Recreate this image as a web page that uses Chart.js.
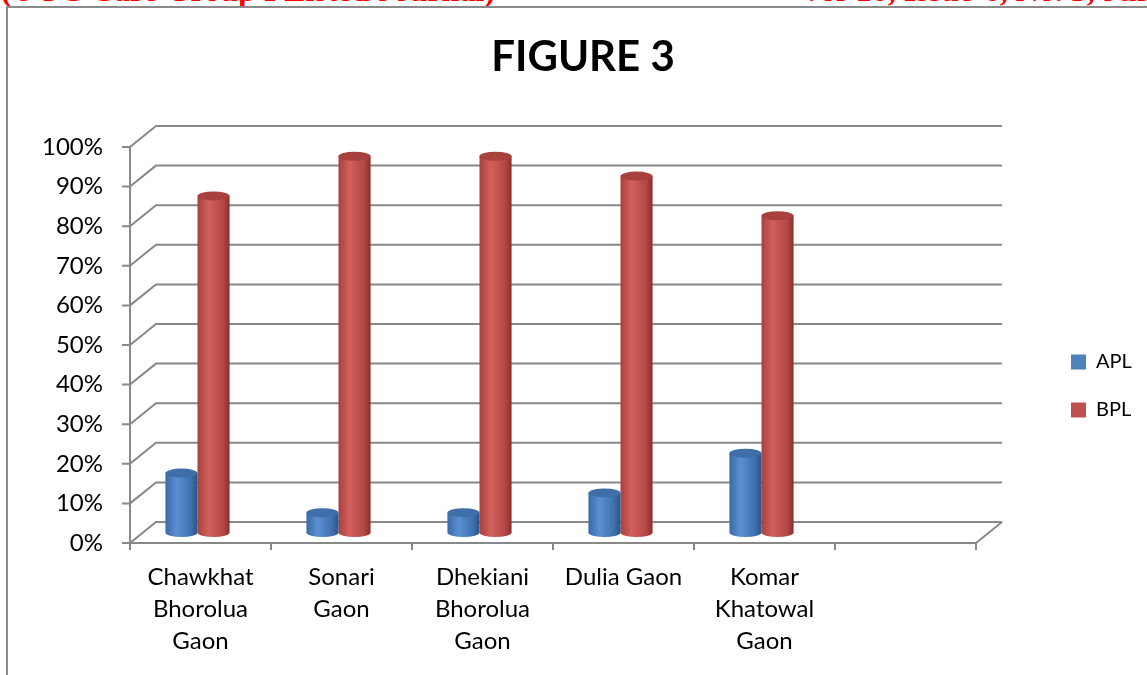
<!DOCTYPE html>
<html>
<head>
<meta charset="utf-8">
<script src="https://cdn.jsdelivr.net/npm/chart.js@4.4.1/dist/chart.umd.min.js"></script>
<style>
  html, body { margin: 0; padding: 0; background: #fff; overflow: hidden; }
  body { width: 1147px; height: 675px; position: relative; }
  .frame { position: absolute; left: 6px; top: 6px; right: -4px; bottom: -4px;
           border-left: 2px solid #8a8a8a; border-top: 2px solid #8a8a8a; }
  .head { position: absolute; top: -26px; font: bold 32px/32px "Liberation Serif", serif;
          color: #f00; white-space: nowrap; }
  #chart { position: absolute; left: 0; top: 0; }
</style>
</head>
<body>
<div class="head" style="left:1px">(UGC Care Group I Listed Journal)</div>
<div class="head" style="left:800px">Vol-10, Issue-6, No. 3, June 2020</div>
<div class="frame"></div>
<canvas id="chart" width="1147" height="675"></canvas>
<script>
const categories = [['Chawkhat', 'Bhorolua', 'Gaon'], ['Sonari', 'Gaon'], ['Dhekiani', 'Bhorolua', 'Gaon'],
  'Dulia Gaon', ['Komar', 'Khatowal', 'Gaon'], ''];
const apl = [15, 5, 5, 10, 20];
const bpl = [85, 95, 95, 90, 80];
const yMax = 100, yStep = 10;

// back wall sits this far behind the front plane
const DEPTH_X = 26, DEPTH_Y = -21;
// cylinders stand half way into the box
const BAR_DX = -3, BAR_DY = DEPTH_Y / 2;
const GRID = '#888888';

const shades = {
  apl: { flat: '#4f81bd', top: '#3f6ea9', stops: ['#3b6aa6', '#5a8fd1', '#3e70ad', '#2b5286'] },
  bpl: { flat: '#c0504d', top: '#a6413e', stops: ['#a8413e', '#d2605c', '#b24744', '#8a2e2c'] }
};

function drawCylinder(ctx, cx, top, bottom, w, pal) {
  const rx = w / 2, ry = w * 0.14;
  const l = cx - rx, r = cx + rx;
  const g = ctx.createLinearGradient(l, 0, r, 0);
  [0, 0.35, 0.8, 1].forEach((p, i) => g.addColorStop(p, pal.stops[i]));
  ctx.fillStyle = g;
  ctx.beginPath();
  ctx.moveTo(l, top);
  ctx.lineTo(l, bottom);
  ctx.ellipse(cx, bottom, rx, ry, 0, Math.PI, 0, true);
  ctx.lineTo(r, top);
  ctx.closePath();
  ctx.fill();
  ctx.fillStyle = pal.top;
  ctx.beginPath();
  ctx.ellipse(cx, top, rx, ry, 0, 0, Math.PI * 2);
  ctx.fill();
}

const box3d = {
  id: 'box3d',
  beforeDatasetsDraw(chart) {
    const {ctx, chartArea: a, scales: {x, y}} = chart;
    ctx.save();
    ctx.strokeStyle = GRID;
    ctx.lineWidth = 2;
    ctx.beginPath();
    y.ticks.forEach(t => {
      const py = y.getPixelForValue(t.value);
      ctx.moveTo(a.left - 8, py);
      ctx.lineTo(a.left, py);
      ctx.lineTo(a.left + DEPTH_X, py + DEPTH_Y);
      ctx.lineTo(a.right + DEPTH_X, py + DEPTH_Y);
    });
    // front edges of the box
    ctx.moveTo(a.left, a.top);
    ctx.lineTo(a.left, a.bottom + 7);
    ctx.moveTo(a.left, a.bottom);
    ctx.lineTo(a.right, a.bottom);
    ctx.lineTo(a.right + DEPTH_X, a.bottom + DEPTH_Y);
    const n = x.ticks.length, slot = (a.right - a.left) / n;
    for (let i = 1; i <= n; i++) {
      ctx.moveTo(a.left + i * slot, a.bottom);
      ctx.lineTo(a.left + i * slot, a.bottom + 7);
    }
    ctx.stroke();
    ctx.restore();
  },
  beforeDatasetDraw(chart, args) {
    const pal = shades[chart.data.datasets[args.index].key];
    args.meta.data.forEach(bar => {
      const {x, y, base, width} = bar.getProps(['x', 'y', 'base', 'width'], true);
      drawCylinder(chart.ctx, x + BAR_DX, y + BAR_DY, base + BAR_DY, width, pal);
    });
    return false;
  }
};

// centre the title over the whole sheet and park the legend right of the box
const placeBlocks = {
  id: 'placeBlocks',
  afterLayout(chart) {
    const t = chart.titleBlock, tw = t.width;
    t.left = 583 - tw / 2; t.right = t.left + tw;
    const lg = chart.legend, pad = lg.options.labels.padding;
    const w = lg.width, h = lg.height;
    lg.left = 1071 - pad; lg.right = lg.left + w;
    lg.top = 352 - pad; lg.bottom = lg.top + h;
  }
};

new Chart(document.getElementById('chart'), {
  type: 'bar',
  data: {
    labels: categories,
    datasets: [
      { label: 'APL', key: 'apl', data: apl, backgroundColor: shades.apl.flat },
      { label: 'BPL', key: 'bpl', data: bpl, backgroundColor: shades.bpl.flat }
    ]
  },
  options: {
    responsive: false,
    animation: false,
    layout: { padding: { left: 0, right: 81, top: 0, bottom: 0 } },
    datasets: { bar: { categoryPercentage: 0.455, barPercentage: 1 } },
    plugins: {
      title: {
        display: true, text: 'FIGURE 3', color: '#000',
        font: { family: 'Lato', size: 42, weight: 'bold', lineHeight: 1.2 },
        padding: { top: 32, bottom: 64.6 }
      },
      legend: {
        position: 'right', align: 'start', maxWidth: 90,
        labels: { boxWidth: 15, boxHeight: 15, padding: 28, color: '#000', font: { family: 'Lato', size: 20 } }
      },
      tooltip: { enabled: false }
    },
    scales: {
      x: {
        grid: { display: false, drawTicks: false }, border: { display: false },
        ticks: { color: '#000', autoSkip: false, maxRotation: 0, padding: 18,
                 font: { family: 'Lato', size: 24, lineHeight: 1.34 } },
        afterFit: s => { s.height = 132; }
      },
      y: {
        min: 0, max: yMax,
        grid: { display: false, drawTicks: false }, border: { display: false },
        ticks: { stepSize: yStep, padding: 27, color: '#000', font: { family: 'Lato', size: 24 },
                 callback: v => v + '%' },
        afterFit: s => { s.width = 130; }
      }
    }
  },
  plugins: [box3d, placeBlocks]
});
</script>
</body>
</html>
